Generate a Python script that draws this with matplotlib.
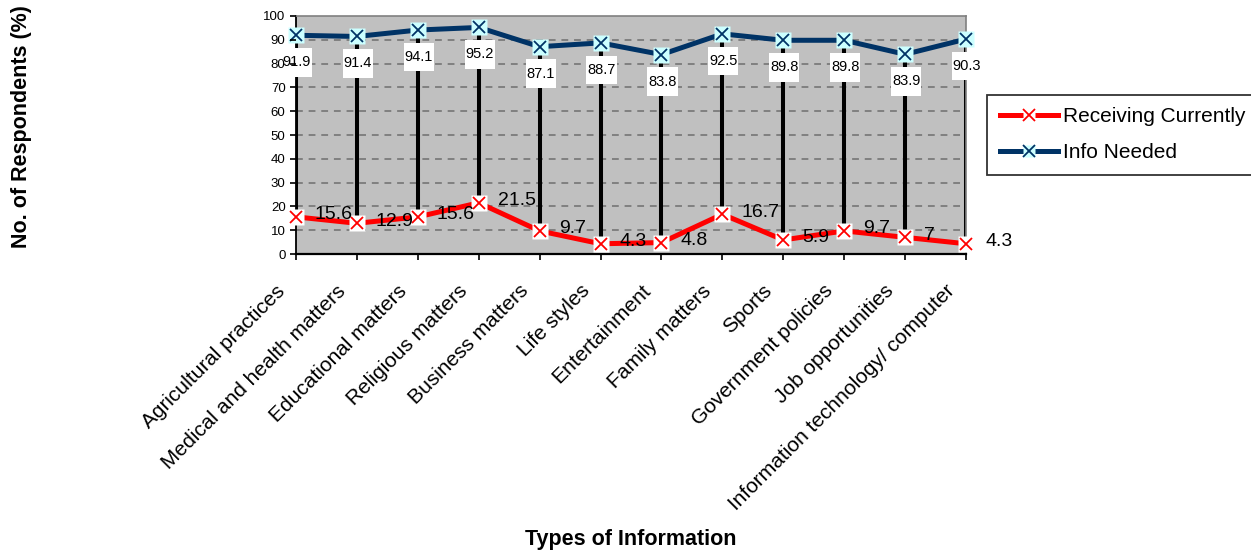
import matplotlib
matplotlib.use("Agg")
import matplotlib.pyplot as plt
from matplotlib.path import Path
from matplotlib.lines import Line2D

plt.rcParams['font.family'] = ['Liberation Sans', 'DejaVu Sans']

categories = [
    "Agricultural practices",
    "Medical and health matters",
    "Educational matters",
    "Religious matters",
    "Business matters",
    "Life styles",
    "Entertainment",
    "Family matters",
    "Sports",
    "Government policies",
    "Job opportunities",
    "Information technology/ computer",
]
receiving_currently = [15.6, 12.9, 15.6, 21.5, 9.7, 4.3, 4.8, 16.7, 5.9, 9.7, 7, 4.3]
info_needed = [91.9, 91.4, 94.1, 95.2, 87.1, 88.7, 83.8, 92.5, 89.8, 89.8, 83.9, 90.3]
y_ticks = list(range(0, 101, 10))

RED = "#FF0000"
NAVY = "#003366"
CYAN = "#CCFFFF"
GRAY_BG = "#C0C0C0"
GRID = "#808080"


def tall_box(x0, y0, width, height, mutation_size):
    """Rectangle with narrow side padding and tall vertical padding."""
    px = 0.06 * mutation_size
    py = 0.50 * mutation_size
    x0, y0 = x0 - px, y0 - py
    x1, y1 = x0 + width + 2 * px, y0 + height + 2 * py
    return Path([(x0, y0), (x1, y0), (x1, y1), (x0, y1), (x0, y0)],
                closed=True)


fig = plt.figure(figsize=(12.51, 5.54), dpi=100)
ax = fig.add_axes([296 / 1251, 1 - 254 / 554, 670 / 1251, 238 / 554])
ax.set_facecolor(GRAY_BG)

x = list(range(len(categories)))
ax.set_xlim(0, len(categories) - 1)
ax.set_ylim(0, 100)
ax.set_yticks(y_ticks)

# dashed horizontal gridlines, kept beneath every mark
for yv in y_ticks[1:-1]:
    ax.axhline(yv, color=GRID, linestyle=(0, (3.5, 3)), linewidth=1.4,
               zorder=0.6)

# high-low connectors between the two series
ax.vlines(x, receiving_currently, info_needed, color="black",
          linewidth=2.9, zorder=2)

# series lines
ax.plot(x, receiving_currently, color=RED, linewidth=3.6, zorder=3,
        solid_capstyle="round", clip_on=False)
ax.plot(x, info_needed, color=NAVY, linewidth=3.6, zorder=3,
        solid_capstyle="round", clip_on=False)

# markers: square backing with an x on top
ax.plot(x, receiving_currently, linestyle="none", marker="s", markersize=11,
        markerfacecolor="white", markeredgecolor="none", zorder=4, clip_on=False)
ax.plot(x, receiving_currently, linestyle="none", marker="x", markersize=9,
        markeredgecolor=RED, markeredgewidth=1.3, zorder=5, clip_on=False)
ax.plot(x, info_needed, linestyle="none", marker="s", markersize=11,
        markerfacecolor=CYAN, markeredgecolor="none", zorder=4, clip_on=False)
ax.plot(x, info_needed, linestyle="none", marker="x", markersize=9,
        markeredgecolor=NAVY, markeredgewidth=1.3, zorder=5, clip_on=False)

# value labels
for xi, v in zip(x, info_needed):
    ax.annotate(f"{v:g}", xy=(xi, v), xytext=(1, -27), textcoords="offset pixels",
                ha="center", va="center", fontsize=10.5, color="black",
                bbox=dict(boxstyle=tall_box, facecolor="white", edgecolor="none"),
                zorder=6, annotation_clip=False)
for xi, v in zip(x, receiving_currently):
    ax.annotate(f"{v:g}", xy=(xi, v), xytext=(19, 2), textcoords="offset pixels",
                ha="left", va="center", fontsize=14, color="black",
                zorder=6, annotation_clip=False)

# spines
for side in ("top", "right"):
    ax.spines[side].set_color(GRID)
    ax.spines[side].set_linewidth(1.2)
ax.spines["left"].set_color("black")
ax.spines["left"].set_linewidth(1.3)
ax.spines["bottom"].set_color("black")
ax.spines["bottom"].set_linewidth(1.6)

# y axis ticks, drawn over the value boxes
ax.yaxis.set_zorder(7)
ax.tick_params(axis="y", direction="out", length=4.5, width=1.2,
               labelsize=9.5, pad=3, colors="black")

# x axis ticks and rotated category labels
ax.set_xticks(x)
ax.set_xticklabels([])
ax.tick_params(axis="x", direction="out", length=4.5, width=1.2)
for xi, name in zip(x, categories):
    ax.annotate(name, xy=(xi, 0), xycoords=("data", "axes fraction"),
                xytext=(-14, -34), textcoords="offset pixels",
                ha="right", va="center", rotation=45, rotation_mode="anchor",
                fontsize=15, annotation_clip=False)

fig.text(631 / 1251, 1 - 540 / 554, "Types of Information", ha="center",
         va="center", fontsize=15.5, fontweight="bold")
fig.text(22 / 1251, 1 - 127 / 554, "No. of Respondents (%)", ha="center",
         va="center", rotation=90, fontsize=15.5, fontweight="bold")

# legend with overlaid square + x handles
h_recv = (Line2D([], [], color=RED, linewidth=3.6),
          Line2D([], [], linestyle="none", marker="s", markersize=9,
                 markerfacecolor="white", markeredgecolor="none"),
          Line2D([], [], linestyle="none", marker="x", markersize=8,
                 markeredgecolor=RED, markeredgewidth=1.3))
h_need = (Line2D([], [], color=NAVY, linewidth=3.6),
          Line2D([], [], linestyle="none", marker="s", markersize=9,
                 markerfacecolor=CYAN, markeredgecolor="none"),
          Line2D([], [], linestyle="none", marker="x", markersize=8,
                 markeredgecolor=NAVY, markeredgewidth=1.3))
leg = fig.legend([h_recv, h_need], ["Receiving Currently", "Info Needed"],
                 loc="upper left", bbox_to_anchor=(987 / 1251, 1 - 95 / 554),
                 fontsize=15, frameon=True, fancybox=False, borderpad=0.6,
                 handlelength=2.8, handletextpad=0.25, labelspacing=0.8,
                 borderaxespad=0)
leg.get_frame().set_edgecolor("black")
leg.get_frame().set_linewidth(1.3)

fig.savefig("out.png", dpi=100)
